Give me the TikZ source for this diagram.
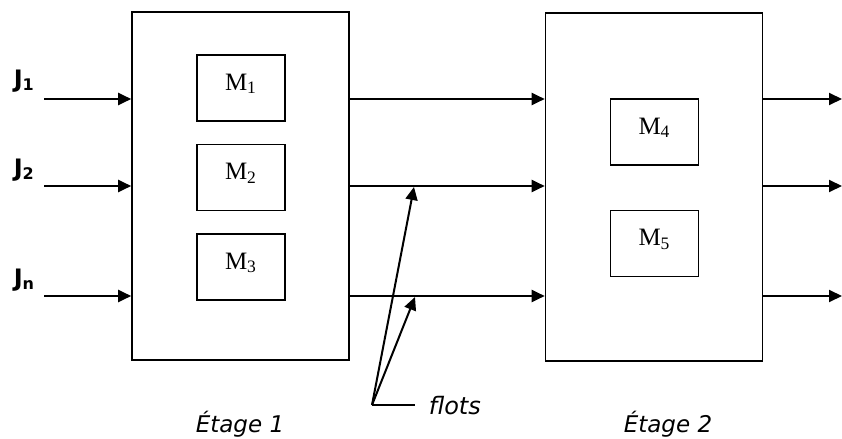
\documentclass[tikz,border=0pt]{standalone}
\usepackage{fontspec}
\setmainfont{Liberation Serif}
\newfontfamily\labfont{DejaVu Sans}
\usetikzlibrary{arrows.meta,positioning}

\begin{document}
\begin{tikzpicture}[x=0.5pt, y=-0.5pt, line width=0.8pt,
    stage/.style={draw, minimum width=108.5pt, minimum height=174pt, inner sep=0pt},
    machine/.style={draw, minimum width=44pt, minimum height=33pt, inner sep=0pt, text depth=6pt, font=\fontsize{12.5}{14}\selectfont},
    flow/.style={-{Triangle[length=6.5pt, width=6pt]}, line width=1pt},
    joblabel/.style={anchor=base west, inner sep=0pt, font=\labfont\bfseries\fontsize{12}{14}\selectfont},
    caption/.style={anchor=base, inner sep=0pt, font=\labfont\itshape\fontsize{11.5}{13}\selectfont}]
    \useasboundingbox (0, 0) rectangle (842, 439);

    % draw the two stages
    \node[stage] (s1) at (240.5, 186) {};
    \node[stage] (s2) at (654, 187) {};

    % draw machines
    \node[machine] (m1) at (241, 88) {M\textsubscript{1}};
    \node[machine, below=11pt of m1] (m2) {M\textsubscript{2}};
    \node[machine, below=11pt of m2] (m3) {M\textsubscript{3}};
    \node[machine] (m4) at (654.5, 132) {M\textsubscript{4}};
    \node[machine, below=22pt of m4] (m5) {M\textsubscript{5}};

    % flow levels
    \coordinate (r1) at (44, 99);
    \coordinate (r2) at (44, 186);
    \coordinate (r3) at (44, 296);
    \coordinate (e1) at (842, 99);
    \coordinate (e2) at (842, 186);
    \coordinate (e3) at (842, 296);

    % draw jobs coming in
    \node[joblabel] (j1) at (13, 87) {J\textsubscript{1}};
    \node[joblabel] (j2) at (13, 176) {J\textsubscript{2}};
    \node[joblabel] (jn) at (13, 286) {J\textsubscript{n}};
    \draw[flow] (r1) -- (r1 -| s1.west);
    \draw[flow] (r2) -- (r2 -| s1.west);
    \draw[flow] (r3) -- (r3 -| s1.west);

    % draw flows between the stages
    \draw[flow] (r1 -| s1.east) -- (r1 -| s2.west);
    \draw[flow] (r2 -| s1.east) -- (r2 -| s2.west);
    \draw[flow] (r3 -| s1.east) -- (r3 -| s2.west);

    % draw flows going out
    \draw[flow] (r1 -| s2.east) -- (e1);
    \draw[flow] (r2 -| s2.east) -- (e2);
    \draw[flow] (r3 -| s2.east) -- (e3);

    % draw the flots pointer
    \coordinate (fv) at (372, 405);
    \coordinate (fa) at (414, 187);
    \coordinate (fb) at (415, 297);
    \coordinate (fe) at (415, 405);
    \draw[flow] (fv) -- (fa);
    \draw[flow] (fv) -- (fb);
    \draw (fv) -- (fe);
    \node[caption, anchor=base west, font=\labfont\itshape\fontsize{12}{14}\selectfont] (flots) at (428, 414) {flots};

    % draw stage labels
    \node[caption] (c1) at (240, 432) {Étage 1};
    \node[caption] (c2) at (668, 432) {Étage 2};

\end{tikzpicture}
\end{document}
